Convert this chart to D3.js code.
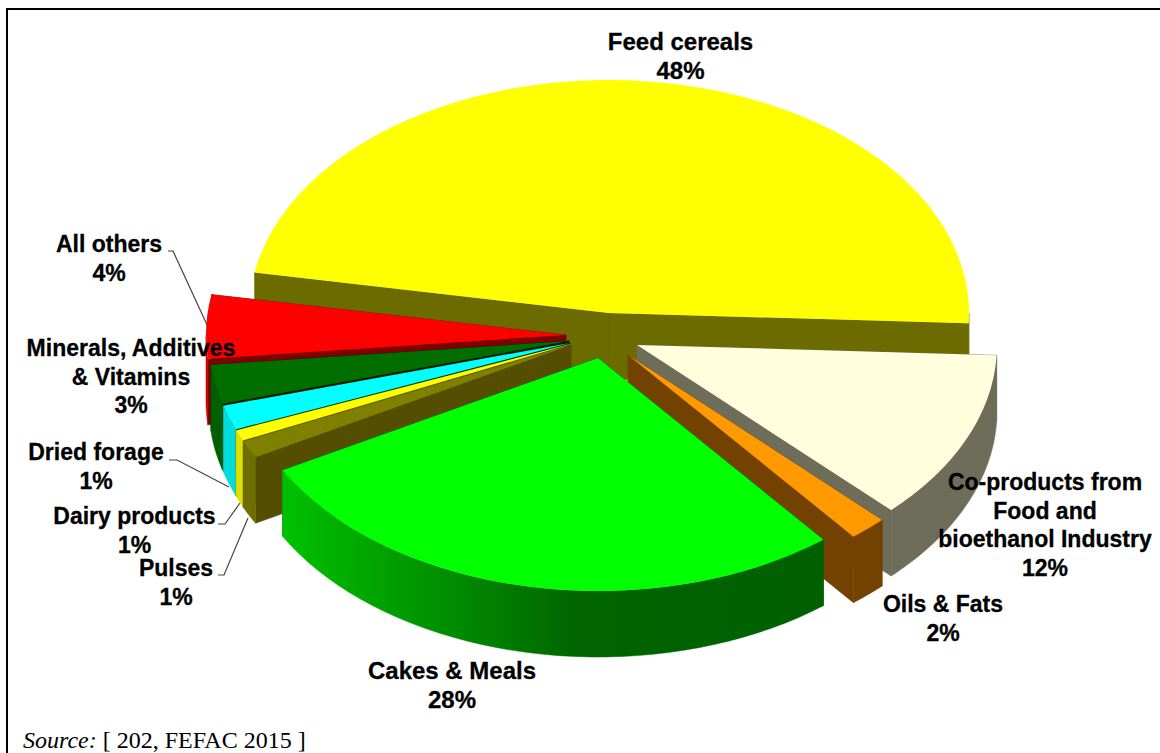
<!DOCTYPE html>
<html><head><meta charset="utf-8">
<script src="https://cdn.jsdelivr.net/npm/d3@7/dist/d3.min.js"></script>
<style>html,body{margin:0;padding:0;background:#fff;overflow:hidden}svg{display:block}</style>
</head><body><svg id="c" width="1160" height="753"></svg>
<script>
// data (angular shares, %) and printed labels
const categories = ["Feed cereals","Co-products","Oils & Fats","Cakes & Meals","Pulses","Dairy products","Dried forage","Minerals","All others"];
const shares = [47.8,11.8,1.7,27.7,1.2,0.75,1.7,2.7,4.4];
const shareLabels = ["48%","12%","2%","28%","1%","1%","1%","3%","4%"];
const labelLines = [["Feed cereals"],["Co-products from","Food and","bioethanol Industry"],["Oils & Fats"],["Cakes & Meals"],["Pulses"],["Dairy products"],["Dried forage"],["Minerals, Additives","& Vitamins"],["All others"]];
// styling and layout
const topColors = ["#ffff00","#ffffdd","#ff9900","#00ff00","#808000","#ffff00","#00ffff","#006f00","#ff0000"];
const outerColors = ["#6b6b00","#6d6d5a","#744200","url(#cakes)","#6e6e00","#e0e000","#00dcdc","#005f00","#c80000"];
const radialColors = ["#6b6b00","#6d6d5a","#744200","#006000","#554d00","#6b6b00","#002000","#001a00","#800000"];
const apexX = [609,637,628,598,571,570.5,570,569,566];
const apexY = [313,345,355,358,345,344,343,341,335];
const labelX = [680.5,1045,943,452,176,134.5,96,131,109];
const labelY = [50,490,612,679,576,524,460,356,252];
const labelSize = [24,23,23,24,23,23,23,23,23];
const drawOrder = [0,1,2,8,7,6,5,4,3];
const rx = 360, ry = 233, depth = 66;

const svg = d3.select("#c");
const grad = svg.append("defs").append("linearGradient").attr("id","cakes");
grad.append("stop").attr("offset","0%").attr("stop-color","#00c000");
grad.append("stop").attr("offset","55%").attr("stop-color","#006400");
grad.append("stop").attr("offset","100%").attr("stop-color","#006000");

svg.append("path").attr("d","M7,753V9H1160").attr("fill","none").attr("stroke","#000").attr("stroke-width",2);

const slices = d3.pie().sort(null).startAngle(-80*Math.PI/180).endAngle(280*Math.PI/180)(shares);
const arc = d3.arc().innerRadius(0).outerRadius(rx);
const pt = (i,a,dz=0)=>[apexX[i]+rx*Math.sin(a), apexY[i]-ry*Math.cos(a)+dz];
const line = d3.line();

drawOrder.forEach(i=>{
  const s = slices[i], g = svg.append("g");
  const a0 = s.startAngle, a1 = s.endAngle, apex=[apexX[i],apexY[i]];
  [a0,a1].forEach(a=>{
    const p = pt(i,a);
    g.append("path").attr("fill",radialColors[i]).attr("stroke",radialColors[i]).attr("stroke-width",0.5)
      .attr("d",line([apex,p,[p[0],p[1]+depth],[apex[0],apex[1]+depth]])+"Z");
  });
  const lo = Math.max(a0,Math.PI/2), hi = Math.min(a1,3*Math.PI/2);
  if(hi>lo){
    const as = d3.range(0,41).map(k=>lo+(hi-lo)*k/40);
    const pts = as.map(a=>pt(i,a)).concat(as.slice().reverse().map(a=>pt(i,a,depth)));
    g.append("path").attr("fill",outerColors[i]).attr("stroke",outerColors[i]).attr("stroke-width",0.5).attr("d",line(pts)+"Z");
  }
  g.append("path").attr("fill",topColors[i]).attr("d",arc(s))
    .attr("transform",`translate(${apexX[i]},${apexY[i]}) scale(1,${ry/rx})`);
});

// leader lines
const leaderLines = [
  [[168,251],[173,251],[208,327]],
  [[169,460],[177,460],[229,487]],
  [[218,524],[225,524],[240,503]],
  [[218,575],[224,575],[248,518]]
];
leaderLines.forEach(l=>svg.append("path").attr("d",line(l)).attr("fill","none").attr("stroke","#444").attr("stroke-width",1.2));

// labels
const lh = 28.7;
labelLines.forEach((lines,i)=>{
  const t = svg.append("text").attr("text-anchor","middle").attr("font-family","'Liberation Sans',Arial,sans-serif")
    .attr("font-weight","bold").attr("font-size",labelSize[i]).attr("fill","#000").attr("stroke","#000").attr("stroke-width",0.3);
  lines.concat([shareLabels[i]]).forEach((txt,k)=>t.append("tspan").attr("x",labelX[i]).attr("y",labelY[i]+k*lh).text(txt));
});
svg.append("text").attr("x",23).attr("y",748).attr("font-family","'Liberation Serif','Times New Roman',serif").attr("font-size",24)
  .call(t=>{t.append("tspan").attr("font-style","italic").text("Source:");t.append("tspan").text(" [ 202, FEFAC 2015 ]");});
</script></body></html>
